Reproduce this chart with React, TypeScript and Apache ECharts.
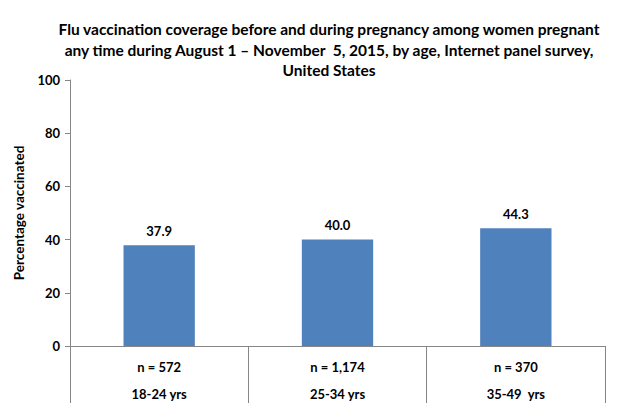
import React, { useEffect, useRef } from "react";
import * as echarts from "echarts";

const titleText =
  "Flu vaccination coverage before and during pregnancy among women pregnant\nany time during August 1 \u2013 November  5, 2015, by age, Internet panel survey,\nUnited States";
const ageGroups = ["18-24 yrs", "25-34 yrs", "35-49  yrs"];
const sampleSizes = ["n = 572", "n = 1,174", "n = 370"];
const coverage = [37.9, 40.0, 44.3];
const yTicks = { min: 0, max: 100, interval: 20 };

const FONT = "Lato, 'Open Sans', sans-serif";

export default function App() {
  const ref = useRef<HTMLDivElement>(null);
  useEffect(() => {
    if (!ref.current) return;
    const chart = echarts.init(ref.current, undefined, { renderer: "svg" });
    chart.setOption({
      animation: false,
      backgroundColor: "#ffffff",
      title: {
        text: titleText,
        left: 324,
        textAlign: "center",
        top: 14,
        textStyle: {
          fontFamily: FONT,
          fontWeight: "bold",
          fontSize: 15.5,
          lineHeight: 20.5,
          color: "#000",
        },
      },
      grid: { left: 70, right: 19, top: 80, bottom: 66 },
      xAxis: {
        type: "category",
        data: ageGroups.map((a, i) => sampleSizes[i] + "\n" + a),
        axisLine: { lineStyle: { color: "#868686", width: 1 } },
        axisTick: { show: true, length: 57, lineStyle: { color: "#868686" } },
        axisLabel: {
          margin: 7,
          fontFamily: FONT,
          fontWeight: "bold",
          fontSize: 13,
          color: "#000",
          lineHeight: 27,
        },
      },
      yAxis: {
        type: "value",
        min: yTicks.min,
        max: yTicks.max,
        interval: yTicks.interval,
        name: "Percentage vaccinated",
        nameLocation: "middle",
        nameGap: 35,
        nameTextStyle: {
          fontFamily: FONT,
          fontWeight: "bold",
          fontSize: 13.5,
          color: "#000",
        },
        axisLine: { show: true, lineStyle: { color: "#868686" } },
        axisTick: { show: true, length: 5, lineStyle: { color: "#868686" } },
        splitLine: { show: false },
        axisLabel: {
          margin: 10,
          fontFamily: FONT,
          fontWeight: "bold",
          fontSize: 13,
          color: "#000",
        },
      },
      series: [
        {
          type: "bar",
          data: coverage,
          barWidth: "40%",
          itemStyle: { color: "#4F81BD" },
          label: {
            show: true,
            position: "top",
            distance: 8,
            formatter: (p: any) => p.value.toFixed(1),
            fontFamily: FONT,
            fontWeight: "bold",
            fontSize: 13,
            color: "#000",
          },
        },
      ],
    });
    return () => chart.dispose();
  }, []);
  return <div ref={ref} style={{ width: 624, height: 412, margin: -8 }} />;
}
